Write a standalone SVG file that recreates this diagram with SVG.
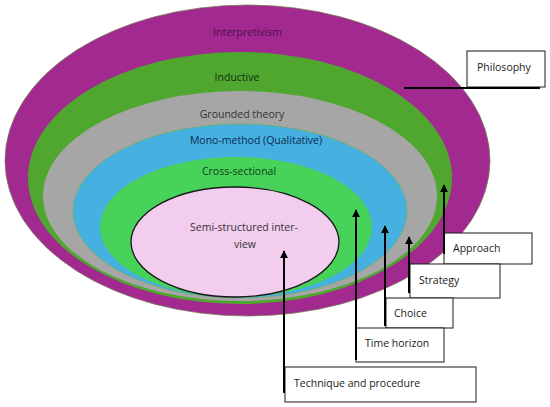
<svg xmlns="http://www.w3.org/2000/svg" width="550" height="407" viewBox="0 0 550 407">
  <style>
    .lbl { font-family: "Open Sans", "Liberation Sans", sans-serif; font-size: 10.5px; }
    .box { fill: #ffffff; stroke: #1a1a1a; stroke-width: 1; }
    .btxt { font-family: "Open Sans", "Liberation Sans", sans-serif; font-size: 10.5px; fill: #1a1a1a; }
    .conn { stroke: #000000; stroke-width: 2; fill: none; }
  </style>
  <defs>
    <marker id="arrow" viewBox="0 0 10 10" refX="9" refY="5" markerWidth="4" markerHeight="4" orient="auto">
      <path d="M0,0 L10,5 L0,10 z" fill="#000000"/>
    </marker>
  </defs>
  <rect width="550" height="407" fill="#ffffff"/>

  <g id="layer-philosophy">
    <ellipse cx="247.5" cy="160.5" rx="242.5" ry="155.5" fill="#a1298f" stroke="#7a7a5a" stroke-width="0.8"/>
    <text class="lbl" x="247.5" y="36" text-anchor="middle" fill="#4a1048">Interpretivism</text>
  </g>
  <g id="layer-approach">
    <ellipse cx="240" cy="178" rx="212" ry="126" fill="#4fa72f"/>
    <text class="lbl" x="237" y="81" text-anchor="middle" fill="#142e0a">Inductive</text>
  </g>
  <g id="layer-strategy">
    <ellipse cx="240" cy="196" rx="197" ry="105" fill="#a6a6a6"/>
    <text class="lbl" x="242" y="118" text-anchor="middle" fill="#333333">Grounded theory</text>
  </g>
  <g id="layer-choice">
    <ellipse cx="240" cy="211" rx="167" ry="87" fill="#46b0e0" stroke="#6ab06a" stroke-width="0.8"/>
    <text class="lbl" x="256" y="144" text-anchor="middle" fill="#0d2a50">Mono-method (Qualitative)</text>
  </g>
  <g id="layer-time">
    <ellipse cx="236" cy="227" rx="136" ry="70" fill="#47d35a"/>
    <text class="lbl" x="239" y="175" text-anchor="middle" fill="#0f3d12">Cross-sectional</text>
  </g>
  <g id="layer-technique">
    <ellipse cx="235" cy="242" rx="104" ry="55" fill="#f2cdee" stroke="#1a1a1a" stroke-width="1.3"/>
    <text class="lbl" x="244" y="231" text-anchor="middle" fill="#333333">Semi-structured inter-</text>
    <text class="lbl" x="245" y="248" text-anchor="middle" fill="#333333">view</text>
  </g>

  <g id="box-philosophy">
    <rect class="box" x="467" y="51" width="78" height="36"/>
    <text class="btxt" x="477" y="71">Philosophy</text>
  </g>
  <g id="box-approach">
    <rect class="box" x="444" y="233" width="88" height="31"/>
    <text class="btxt" x="453" y="252">Approach</text>
  </g>
  <g id="box-strategy">
    <rect class="box" x="410" y="264" width="90" height="34"/>
    <text class="btxt" x="419" y="284">Strategy</text>
  </g>
  <g id="box-choice">
    <rect class="box" x="386" y="298" width="67" height="30"/>
    <text class="btxt" x="394" y="317">Choice</text>
  </g>
  <g id="box-time">
    <rect class="box" x="356" y="328" width="88" height="34"/>
    <text class="btxt" x="365" y="347">Time horizon</text>
  </g>
  <g id="box-technique">
    <rect class="box" x="285" y="367" width="191" height="35"/>
    <text class="btxt" x="294" y="387">Technique and procedure</text>
  </g>

  <g id="connectors">
    <line class="conn" x1="404" y1="88" x2="540" y2="88"/>
    <line class="conn" x1="444" y1="254" x2="444" y2="185" marker-end="url(#arrow)"/>
    <line class="conn" x1="409" y1="293" x2="409" y2="237" marker-end="url(#arrow)"/>
    <line class="conn" x1="385" y1="326" x2="385" y2="226" marker-end="url(#arrow)"/>
    <line class="conn" x1="356" y1="360" x2="356" y2="210" marker-end="url(#arrow)"/>
    <line class="conn" x1="284" y1="393" x2="284" y2="251" marker-end="url(#arrow)"/>
  </g>
</svg>
